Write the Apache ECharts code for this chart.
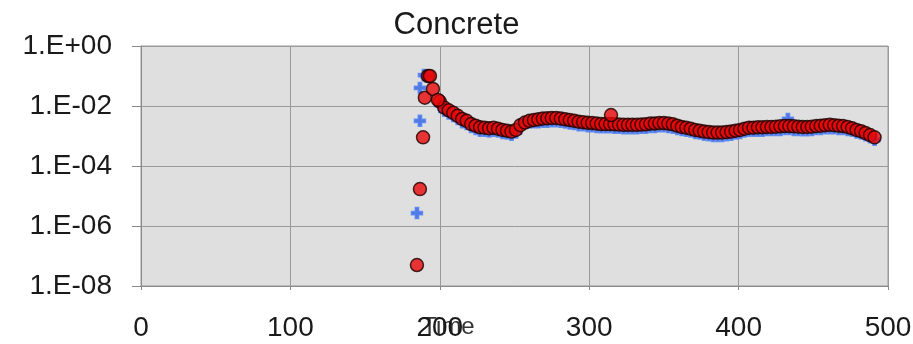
<!DOCTYPE html>
<html>
<head>
<meta charset="utf-8">
<script src="https://cdn.jsdelivr.net/npm/echarts@6/dist/echarts.min.js"></script>
<style>
html,body{margin:0;padding:0;background:#fff;}
#chart{width:913px;height:344px;}
</style>
</head>
<body>
<div id="chart"></div>
<script>
// time steps of the dense part of the record
var times = [200,203,206,209,212,215,218,221,224,227,230,233,236,239,242,245,248,251,254,257,
  260,263,266,269,272,275,278,281,284,287,290,293,296,299,302,305,308,311,314,317,
  320,323,326,329,332,335,338,341,344,347,350,353,356,359,362,365,368,371,374,377,
  380,383,386,389,392,395,398,401,404,407,410,413,416,419,422,425,428,431,434,437,
  440,443,446,449,452,455,458,461,464,467,470,473,476,479,482,485,488,491]

// red circles
var redEarlyT = [184.7, 186.7, 188.8, 190, 192.1, 193.4, 195.4, 198.8, 314.6]
var redEarlyV = [5e-8, 1.7e-5, 9e-4, 1.9e-2, 0.1, 0.1, 3.7e-2, 1.6e-2, 5.0e-3]
var redVals = [1.4e-2,8.9e-3,7.2e-3,5.9e-3,4.7e-3,3.7e-3,3.2e-3,2.5e-3,2.2e-3,1.95e-3,
  1.9e-3,1.8e-3,1.9e-3,1.75e-3,1.6e-3,1.5e-3,1.4e-3,1.6e-3,2.3e-3,2.8e-3,
  3.2e-3,3.4e-3,3.6e-3,3.8e-3,3.9e-3,4.0e-3,4.0e-3,3.8e-3,3.6e-3,3.4e-3,
  3.2e-3,3.0e-3,2.9e-3,2.75e-3,2.7e-3,2.6e-3,2.5e-3,2.5e-3,2.5e-3,2.45e-3,
  2.4e-3,2.35e-3,2.35e-3,2.35e-3,2.35e-3,2.4e-3,2.45e-3,2.6e-3,2.6e-3,2.7e-3,
  2.7e-3,2.6e-3,2.45e-3,2.2e-3,2.0e-3,1.9e-3,1.75e-3,1.6e-3,1.5e-3,1.4e-3,
  1.35e-3,1.3e-3,1.3e-3,1.3e-3,1.35e-3,1.4e-3,1.5e-3,1.6e-3,1.75e-3,1.9e-3,
  1.9e-3,1.95e-3,1.95e-3,2.0e-3,2.0e-3,2.05e-3,2.1e-3,2.15e-3,2.15e-3,2.1e-3,
  2.05e-3,2.0e-3,2.0e-3,2.05e-3,2.15e-3,2.2e-3,2.3e-3,2.35e-3,2.3e-3,2.2e-3,
  2.15e-3,2.0e-3,1.8e-3,1.6e-3,1.45e-3,1.25e-3,1.07e-3,9.0e-4]

// blue pluses
var blueEarlyT = [184.7, 186.7, 186.7, 189.4, 191, 433]
var blueEarlyV = [2.7e-6, 3.2e-3, 4e-2, 0.107, 0.1, 3.7e-3]
var blueVals = [1.1e-2,6.9e-3,5.6e-3,4.6e-3,3.7e-3,2.9e-3,2.5e-3,2.0e-3,1.7e-3,1.5e-3,
  1.5e-3,1.4e-3,1.5e-3,1.4e-3,1.25e-3,1.2e-3,1.1e-3,1.3e-3,2.4e-3,2.8e-3,
  2.8e-3,2.9e-3,2.9e-3,3.0e-3,3.0e-3,3.1e-3,3.1e-3,3.0e-3,2.8e-3,2.6e-3,
  2.5e-3,2.3e-3,2.3e-3,2.1e-3,2.1e-3,2.0e-3,1.95e-3,1.95e-3,1.95e-3,1.9e-3,
  1.9e-3,1.8e-3,1.8e-3,1.8e-3,1.8e-3,1.9e-3,1.9e-3,2.0e-3,2.0e-3,2.1e-3,
  2.1e-3,2.0e-3,1.9e-3,1.7e-3,1.6e-3,1.5e-3,1.4e-3,1.25e-3,1.2e-3,1.1e-3,
  1.05e-3,1.0e-3,1.0e-3,1.0e-3,1.05e-3,1.1e-3,1.2e-3,1.25e-3,1.4e-3,1.5e-3,
  1.5e-3,1.5e-3,1.5e-3,1.6e-3,1.6e-3,1.6e-3,1.6e-3,1.7e-3,1.7e-3,1.6e-3,
  1.6e-3,1.55e-3,1.55e-3,1.6e-3,1.7e-3,1.7e-3,1.8e-3,1.8e-3,1.8e-3,1.7e-3,
  1.7e-3,1.6e-3,1.5e-3,1.3e-3,1.2e-3,1.05e-3,9.0e-4,7.5e-4]

var xTicks = [0, 100, 200, 300, 400, 500]

function pairs(ts, vs){
    var out = []
    ts.forEach(function(t, i){ out.push([t, vs[i]]) })
    return out
}

var chart = echarts.init(document.getElementById('chart'))
var font = 'Liberation Sans, Arial, sans-serif'

var option = {
    animation: false,
    title: {
        text: 'Concrete',
        left: 'center',
        top: 5,
        textStyle: {fontFamily: font, fontSize: 31, fontWeight: 'normal', color: '#1a1a1a'}
    },
    grid: {
        left: 141, right: 25, top: 46, bottom: 58,
        outerBoundsMode: 'none',
        containLabel: false,
        show: true,
        backgroundColor: '#dfdfdf',
        borderColor: '#9a9a9a',
        borderWidth: 1
    },
    xAxis: {
        type: 'value',
        min: xTicks[0], max: xTicks[xTicks.length - 1], interval: 100,
        name: 'Time',
        nameLocation: 'middle',
        nameGap: 29,
        nameMoveOverlap: false,
        nameTextStyle: {fontFamily: font, fontSize: 24, color: '#333', padding: [0, 132, 0, 0]},
        axisLine: {show: true, lineStyle: {color: '#8a8a8a'}},
        axisTick: {show: true, length: 4, lineStyle: {color: '#8a8a8a'}},
        axisLabel: {fontFamily: font, fontSize: 28, color: '#1a1a1a', margin: 28},
        splitLine: {show: true, lineStyle: {color: '#9a9a9a', width: 1}}
    },
    yAxis: {
        type: 'log',
        logBase: 10,
        min: 1e-8, max: 1,
        interval: 2,
        axisLine: {show: true, lineStyle: {color: '#8a8a8a'}},
        axisTick: {show: true, length: 9, lineStyle: {color: '#8a8a8a'}},
        axisLabel: {
            fontFamily: font, fontSize: 28, color: '#1a1a1a', margin: 29,
            formatter: function(v){
                var e = Math.round(Math.log10(v))
                var s = e < 0 ? '-' : '+'
                var a = Math.abs(e)
                return '1.E' + s + (a < 10 ? '0' + a : a)
            }
        },
        splitLine: {show: true, lineStyle: {color: '#9a9a9a', width: 1}}
    },
    series: [
        {
            name: 'blue',
            type: 'scatter',
            symbol: 'path://M3.5,0H6.5V3.5H10V6.5H6.5V10H3.5V6.5H0V3.5H3.5Z',
            symbolSize: 11,
            itemStyle: {color: '#2f5fe0', borderColor: '#4d7ff5', borderWidth: 1.5},
            data: pairs(blueEarlyT, blueEarlyV).concat(pairs(times, blueVals))
        },
        {
            name: 'red',
            type: 'scatter',
            symbol: 'circle',
            symbolSize: 13,
            itemStyle: {color: '#e80808', borderColor: '#1a0000', borderWidth: 1.5},
            data: pairs(times, redVals).concat(pairs(redEarlyT, redEarlyV))
        }
    ]
}
chart.setOption(option)
window.addEventListener('resize', function () {
    chart.resize()
})
</script>
</body>
</html>
